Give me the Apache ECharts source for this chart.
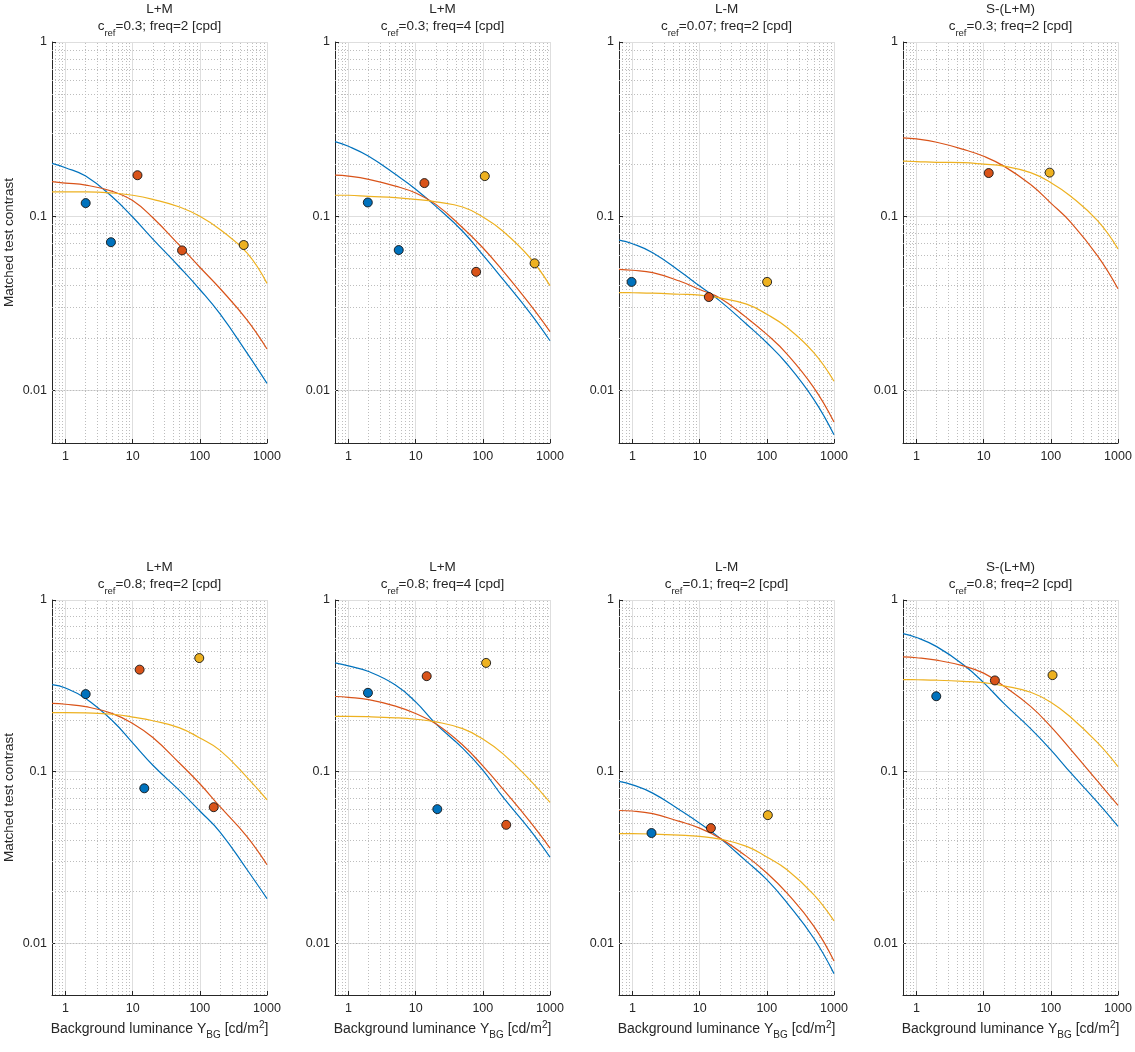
<!DOCTYPE html>
<html><head><meta charset="utf-8">
<script src="https://cdn.jsdelivr.net/npm/echarts@6.0.0/dist/echarts.min.js"></script>
<style>html,body{margin:0;padding:0;background:#fff}#c{width:1135px;height:1052px}</style>
</head><body><div id="c"></div>
<script>
// ---------- data ----------
const curveX = [0.63, 1, 2, 5, 10, 20, 50, 100, 200, 500, 1000];
const xTicks = [1, 10, 100, 1000];
const yTicks = [0.01, 0.1, 1];

const panelChannel = ['L+M', 'L+M', 'L-M', 'S-(L+M)', 'L+M', 'L+M', 'L-M', 'S-(L+M)'];
const panelCref = ['0.3', '0.3', '0.07', '0.3', '0.8', '0.8', '0.1', '0.8'];
const panelFreq = ['2', '4', '2', '2', '2', '4', '2', '2'];

const p1Blue   = [0.201, 0.19, 0.17, 0.129, 0.099, 0.074, 0.051, 0.038, 0.0275, 0.0165, 0.011];
const p1Orange = [0.158, 0.155, 0.151, 0.139, 0.123, 0.098, 0.068, 0.051, 0.0385, 0.0255, 0.0173];
const p1Yellow = [0.138, 0.138, 0.138, 0.136, 0.132, 0.125, 0.113, 0.1, 0.084, 0.0618, 0.0412];
const p1BluePts = [[2.0, 0.119], [4.75, 0.071]];
const p1OrangePts = [[11.8, 0.172], [54.4, 0.0637]];
const p1YellowPts = [[450, 0.0684]];

const p2Blue   = [0.268, 0.252, 0.221, 0.174, 0.143, 0.114, 0.082, 0.060, 0.0434, 0.028, 0.0193];
const p2Orange = [0.172, 0.170, 0.163, 0.149, 0.136, 0.117, 0.086, 0.066, 0.0485, 0.0313, 0.0218];
const p2Yellow = [0.132, 0.132, 0.130, 0.128, 0.125, 0.121, 0.113, 0.099, 0.082, 0.058, 0.040];
const p2BluePts = [[1.94, 0.12], [5.6, 0.064]];
const p2OrangePts = [[13.5, 0.155], [79.5, 0.048]];
const p2YellowPts = [[107, 0.17], [590, 0.0537]];

const p3Blue   = [0.073, 0.0696, 0.0618, 0.0485, 0.0398, 0.0327, 0.024, 0.0188, 0.0142, 0.0089, 0.00557];
const p3Orange = [0.0496, 0.049, 0.0475, 0.0425, 0.038, 0.034, 0.0262, 0.021, 0.0162, 0.0104, 0.0066];
const p3Yellow = [0.0365, 0.0364, 0.0362, 0.0357, 0.0353, 0.034, 0.0313, 0.0274, 0.023, 0.0165, 0.0113];
const p3BluePts = [[0.97, 0.042]];
const p3OrangePts = [[13.7, 0.0344]];
const p3YellowPts = [[101, 0.042]];

const p4Orange = [0.282, 0.278, 0.266, 0.242, 0.221, 0.194, 0.152, 0.119, 0.092, 0.059, 0.0384];
const p4Yellow = [0.207, 0.206, 0.204, 0.203, 0.199, 0.194, 0.178, 0.156, 0.130, 0.094, 0.065];
const p4OrangePts = [[11.9, 0.177]];
const p4YellowPts = [[96, 0.178]];

const p5Blue   = [0.321, 0.307, 0.267, 0.198, 0.147, 0.109, 0.0775, 0.059, 0.0445, 0.027, 0.0182];
const p5Orange = [0.25, 0.247, 0.239, 0.218, 0.191, 0.158, 0.112, 0.085, 0.0625, 0.042, 0.0287];
const p5Yellow = [0.221, 0.221, 0.22, 0.216, 0.208, 0.198, 0.180, 0.157, 0.133, 0.093, 0.0686];
const p5BluePts = [[2.0, 0.283], [14.9, 0.080]];
const p5OrangePts = [[12.7, 0.393], [161, 0.0621]];
const p5YellowPts = [[98, 0.459]];

const p6Blue   = [0.43, 0.413, 0.383, 0.32, 0.255, 0.19, 0.137, 0.102, 0.071, 0.046, 0.0318];
const p6Orange = [0.274, 0.271, 0.263, 0.241, 0.218, 0.19, 0.143, 0.108, 0.079, 0.0513, 0.0359];
const p6Yellow = [0.21, 0.21, 0.209, 0.206, 0.202, 0.195, 0.178, 0.155, 0.127, 0.0896, 0.0662];
const p6BluePts = [[1.95, 0.288], [21, 0.0605]];
const p6OrangePts = [[14.6, 0.36], [223, 0.049]];
const p6YellowPts = [[112, 0.43]];

const p7Blue   = [0.0877, 0.0838, 0.075, 0.06, 0.0501, 0.041, 0.030, 0.0235, 0.0172, 0.0107, 0.00666];
const p7Orange = [0.0594, 0.059, 0.0569, 0.0513, 0.0469, 0.041, 0.0321, 0.0257, 0.0196, 0.0126, 0.0079];
const p7Yellow = [0.0435, 0.0435, 0.0433, 0.0427, 0.042, 0.0405, 0.0367, 0.0318, 0.0268, 0.0192, 0.0135];
const p7BluePts = [[1.92, 0.0439]];
const p7OrangePts = [[14.7, 0.0469]];
const p7YellowPts = [[103.5, 0.0558]];

const p8Blue   = [0.637, 0.605, 0.535, 0.42, 0.33, 0.25, 0.178, 0.134, 0.098, 0.066, 0.048];
const p8Orange = [0.466, 0.461, 0.446, 0.413, 0.375, 0.315, 0.24, 0.183, 0.134, 0.0877, 0.0636];
const p8Yellow = [0.344, 0.343, 0.341, 0.336, 0.330, 0.316, 0.29, 0.254, 0.207, 0.147, 0.107];
const p8BluePts = [[1.97, 0.275]];
const p8OrangePts = [[14.7, 0.34]];
const p8YellowPts = [[106, 0.365]];

const blueCurves   = [p1Blue, p2Blue, p3Blue, null, p5Blue, p6Blue, p7Blue, p8Blue];
const orangeCurves = [p1Orange, p2Orange, p3Orange, p4Orange, p5Orange, p6Orange, p7Orange, p8Orange];
const yellowCurves = [p1Yellow, p2Yellow, p3Yellow, p4Yellow, p5Yellow, p6Yellow, p7Yellow, p8Yellow];
const bluePts   = [p1BluePts, p2BluePts, p3BluePts, null, p5BluePts, p6BluePts, p7BluePts, p8BluePts];
const orangePts = [p1OrangePts, p2OrangePts, p3OrangePts, p4OrangePts, p5OrangePts, p6OrangePts, p7OrangePts, p8OrangePts];
const yellowPts = [p1YellowPts, p2YellowPts, p3YellowPts, p4YellowPts, p5YellowPts, p6YellowPts, p7YellowPts, p8YellowPts];

// ---------- style / layout ----------
const FONT = '"Liberation Sans", Arial, Helvetica, sans-serif';
const TXT = '#262626';
const BLUE = '#0072BD', ORANGE = '#D95319', YELLOW = '#EDB120';
const X_MIN = 0.63, X_MAX = 1000, Y_MIN = 0.005, Y_MAX = 1;
const colLeft = [52, 335, 619, 903];
const rowTop = [42, 600];
const rowH = [401, 395];
const GW = 215;

function near(v, list) { return list.some(t => Math.abs(Math.log10(v) - Math.log10(t)) < 1e-6); }
function fmtPow(v) {
  const e = Math.round(Math.log10(v));
  return e >= 0 ? String(Math.pow(10, e)) : '0.' + '0'.repeat(-e - 1) + '1';
}
function minorVals(lo, hi) {
  const out = [];
  for (let d = -4; d <= 3; d++) for (let k = 2; k <= 9; k++) {
    const v = +(k * Math.pow(10, d)).toPrecision(6);
    if (v > lo * 1.0001 && v < hi * 0.9999) out.push(v);
  }
  return out;
}
const xMinor = minorVals(X_MIN, X_MAX);
const yMinor = minorVals(Y_MIN, Y_MAX);

const grids = [], xAxes = [], yAxes = [], series = [], graphics = [];
for (let i = 0; i < 8; i++) {
  const r = Math.floor(i / 4), c = i % 4;
  grids.push({ left: colLeft[c], top: rowTop[r], width: GW, height: rowH[r] });
  xAxes.push({
    type: 'log', gridIndex: i, min: X_MIN, max: X_MAX,
    axisLine: { show: true, onZero: false, lineStyle: { color: TXT, width: 1 } },
    axisTick: { show: true, inside: true, length: 4, lineStyle: { color: TXT } },
    axisLabel: { margin: 7, fontSize: 12.5, color: TXT, fontFamily: FONT,
      formatter: v => near(v, xTicks) ? fmtPow(v) : '' },
    splitLine: { show: true, lineStyle: { color: '#dedede', width: 1 } }
  });
  yAxes.push({
    type: 'log', gridIndex: i, min: Y_MIN, max: Y_MAX,
    axisLine: { show: true, onZero: false, lineStyle: { color: TXT, width: 1 } },
    axisTick: { show: true, inside: true, length: 4, lineStyle: { color: TXT } },
    axisLabel: { margin: 5, fontSize: 12.5, color: TXT, fontFamily: FONT,
      formatter: v => near(v, yTicks) ? fmtPow(v) : '' },
    splitLine: { show: true, lineStyle: { color: '#dedede', width: 1 } }
  });
  // minor dotted grid
  series.push({
    type: 'line', xAxisIndex: i, yAxisIndex: i, data: [], silent: true, z: 1,
    markLine: {
      silent: true, z: 1, symbol: ['none', 'none'], label: { show: false }, animation: false,
      lineStyle: { color: '#bdbdbd', type: [1, 2], width: 1 },
      emphasis: { disabled: true },
      data: [...xMinor.map(v => ({ xAxis: v })), ...yMinor.map(v => ({ yAxis: v }))]
    }
  });
  const curves = [[blueCurves[i], BLUE], [orangeCurves[i], ORANGE], [yellowCurves[i], YELLOW]];
  curves.forEach(([arr, col]) => {
    if (!arr) return;
    series.push({
      type: 'line', xAxisIndex: i, yAxisIndex: i, z: 3, silent: true,
      data: curveX.map((x, j) => [x, arr[j]]),
      smooth: 0.45, showSymbol: false, symbol: 'none',
      lineStyle: { color: col, width: 1.2 }
    });
  });
  const pts = [[bluePts[i], BLUE], [orangePts[i], ORANGE], [yellowPts[i], YELLOW]];
  pts.forEach(([arr, col]) => {
    if (!arr) return;
    series.push({
      type: 'scatter', xAxisIndex: i, yAxisIndex: i, z: 5, silent: true,
      data: arr, symbol: 'circle', symbolSize: 9,
      itemStyle: { color: col, borderColor: '#141414', borderWidth: 0.9, opacity: 1 }
    });
  });
  // titles
  const cx = colLeft[c] + GW / 2;
  const t1y = r === 0 ? 9 : 567;
  const t2y = r === 0 ? 26.5 : 584;
  graphics.push({
    type: 'text', x: cx, y: t1y, silent: true,
    style: { text: panelChannel[i], fill: TXT, fontSize: 13.5, fontFamily: FONT,
      align: 'center', verticalAlign: 'middle', textAlign: 'center', textVerticalAlign: 'middle' }
  });
  graphics.push({
    type: 'text', x: cx, y: t2y, silent: true,
    style: {
      text: '{n|c}{s|ref}{n|=' + panelCref[i] + '; freq=' + panelFreq[i] + ' [cpd]}',
      align: 'center', verticalAlign: 'middle', textAlign: 'center', textVerticalAlign: 'middle',
      rich: {
        n: { fontSize: 13.5, fontFamily: FONT, fill: TXT, color: TXT },
        s: { fontSize: 9.5, fontFamily: FONT, fill: TXT, color: TXT, padding: [14, 0, 0, 0] }
      }
    }
  });
  if (r === 1) {
    graphics.push({
      type: 'text', x: cx, y: 1029, silent: true,
      style: {
        text: '{n|Background luminance Y}{s|BG}{n| [cd/m}{p|2}{n|]}',
        align: 'center', verticalAlign: 'middle', textAlign: 'center', textVerticalAlign: 'middle',
        rich: {
          n: { fontSize: 14, fontFamily: FONT, fill: TXT, color: TXT },
          s: { fontSize: 10, fontFamily: FONT, fill: TXT, color: TXT, padding: [12, 0, 0, 0] },
          p: { fontSize: 10, fontFamily: FONT, fill: TXT, color: TXT, padding: [0, 0, 8, 0] }
        }
      }
    });
  }
  if (c === 0) {
    graphics.push({
      type: 'text', x: 9, y: rowTop[r] + rowH[r] / 2, rotation: Math.PI / 2, silent: true,
      style: { text: 'Matched test contrast', fill: TXT, fontSize: 13.5, fontFamily: FONT,
        align: 'center', verticalAlign: 'middle', textAlign: 'center', textVerticalAlign: 'middle' }
    });
  }
}

const chart = echarts.init(document.getElementById('c'), null, { renderer: 'canvas' });
chart.setOption({
  animation: false,
  backgroundColor: '#ffffff',
  grid: grids, xAxis: xAxes, yAxis: yAxes, series: series,
  graphic: { elements: graphics }
});
</script></body></html>
